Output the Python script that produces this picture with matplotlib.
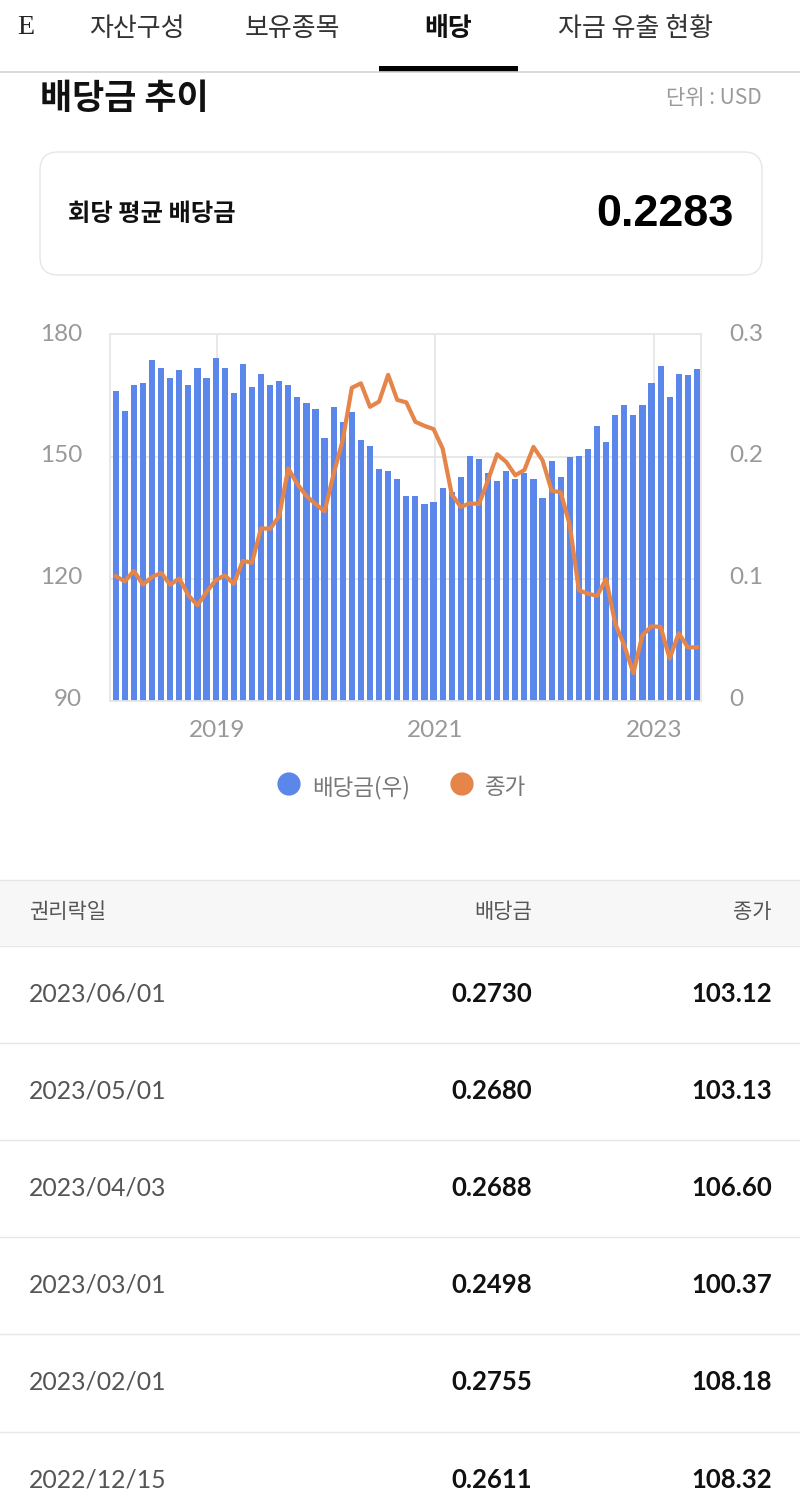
import numpy as np
import matplotlib
matplotlib.use('Agg')
import matplotlib.pyplot as plt
from matplotlib.patches import FancyBboxPatch, Rectangle
from matplotlib.transforms import ScaledTranslation

KR = ['Noto Sans CJK KR', 'DejaVu Sans']
LATIN = ['Lato', 'Noto Sans CJK KR']

# dividend per month, oldest first
dividends = [.2544, .2385, .2593, .2610, .2802, .2736, .2657, .2720, .2593, .2736, .2657,
             .2819, .2736, .2527, .2769, .2577, .2690, .2593, .2626, .2593, .2497, .2448,
             .2401, .2159, .2418, .2288, .2371, .2143, .2096, .1904, .1887, .1824, .1679,
             .1679, .1615, .1632, .1745, .1712, .1841, .2016, .1986, .1871, .1808, .1887,
             .1824, .1871, .1824, .1665, .1967, .1841, .2000, .2016, .2066, .2255, .2129,
             .2352, .2431, .2352, .2431, .2611, .2755, .2498, .2688, .2680, .2730]
# close price on the same dates
closes = [120.7, 119.4, 122.0, 118.6, 120.5, 121.5, 118.6, 120.1, 116.0, 113.5, 116.8,
          119.7, 120.9, 118.8, 124.5, 124.0, 132.5, 132.4, 135.5, 147.3, 143.4, 140.5,
          138.5, 136.7, 146.0, 154.3, 167.2, 168.3, 162.5, 163.8, 170.4, 164.2, 163.6,
          158.8, 157.8, 157.0, 152.2, 140.9, 137.8, 138.7, 138.5, 144.4, 150.8, 148.9,
          145.6, 146.9, 152.6, 149.3, 141.8, 141.4, 133.3, 117.2, 116.4, 115.8, 120.0,
          109.0, 103.6, 96.8, 106.1, 108.32, 108.18, 100.37, 106.60, 103.13, 103.12]

year_labels = ['2019', '2021', '2023']
year_pos = [11.15, 35.15, 59.25]
left_ticks = [90, 120, 150, 180]
right_ticks = [0, 0.1, 0.2, 0.3]

tabs = ['자산구성', '보유종목', '배당', '자금 유출 현황']
table_dates = ['2023/06/01', '2023/05/01', '2023/04/03', '2023/03/01', '2023/02/01', '2022/12/15']
table_divs = ['0.2730', '0.2680', '0.2688', '0.2498', '0.2755', '0.2611']
table_closes = ['103.12', '103.13', '106.60', '100.37', '108.18', '108.32']

BLUE = '#5b87ea'
ORANGE = '#e5854a'
GRID = '#e6e6e6'
W, H = 800, 1505

fig = plt.figure(figsize=(W / 100, H / 100), dpi=100, facecolor='white')

# whole page in pixel coords for the chrome around the chart
page = fig.add_axes([0, 0, 1, 1])
page.set_xlim(0, W)
page.set_ylim(H, 0)
page.axis('off')


def txt(x, y, s, size, color='#333333', ha='left', weight='normal', family=KR):
    return page.text(x, y + 2.5, s, fontsize=size * 0.72, color=color, ha=ha, va='center',
                     fontweight=weight, family=family)


# tabs, the first one is cut off by the screen edge
cut = txt(17, 24.5, 'E', 28, '#222222', family=['Liberation Serif'])
cut.set_clip_path(Rectangle((18, 5), 11, 40, transform=page.transData))
tab_x = [137, 292, 448, 636]
for x, s in zip(tab_x, tabs):
    if s == '배당':
        txt(x, 26, s, 26, '#111111', ha='center', weight='bold')
    else:
        txt(x, 26, s, 26, '#333333', ha='center')
page.plot([0, W], [71.5, 71.5], color='#d4d4d4', lw=1.2)
page.add_patch(Rectangle((379, 66), 139, 5.5, color='black', lw=0))

txt(40, 95.5, '배당금 추이', 35, '#111111', weight='bold')
txt(762, 95, '단위 : USD', 21, '#9a9a9a', ha='right')

# average box
page.add_patch(FancyBboxPatch((40, 152), 722, 123, boxstyle='round,pad=0,rounding_size=18',
                              fc='white', ec='#e6e6e6', lw=1))
txt(68, 211.5, '회당 평균 배당금', 24.3, '#111111', weight='bold')
txt(734, 212, '0.2283', 45, '#000000', ha='right', weight='bold', family=['Liberation Sans'])

# chart, bars on the right axis scale, close on the left one
ax = fig.add_axes([110 / W, 1 - 700.5 / H, 591 / W, 366.5 / H])
ax.set_facecolor('none')
idx = np.arange(len(dividends))
ax.bar(idx, dividends, width=0.68, color=BLUE, zorder=2)
ax.set_xlim(-0.63, 64.45)
ax.set_ylim(0, 0.3016)
ax.set_xticks(year_pos)
ax.set_xticklabels(year_labels)
ax.set_yticks(right_ticks)
ax.set_yticklabels(['0', '0.1', '0.2', '0.3'])
ax.grid(True, color=GRID, lw=1.3, zorder=0)
ax.set_axisbelow(True)
ax.yaxis.get_gridlines()[3].set_visible(False)
for sp in ax.spines.values():
    sp.set_color(GRID)
    sp.set_linewidth(1.3)

ax2 = ax.twinx()
ax2.set_ylim(90, 90 + 0.3016 * 300)
ax2.yaxis.tick_left()
ax.yaxis.tick_right()
ax2.set_yticks(left_ticks)
ax.tick_params(axis='x', length=0, labelsize=24.3 * 0.72, labelcolor='#999999', pad=14)
ax.tick_params(axis='y', length=0, labelsize=24.3 * 0.72, labelcolor='#999999', pad=20)
ax2.tick_params(length=0, labelsize=24.3 * 0.72, labelcolor='#999999', pad=20)
# labels sit a little above their gridlines
lift = ScaledTranslation(0, 3.5 / 100, fig.dpi_scale_trans)
for lab in ax.get_xticklabels() + ax.get_yticklabels() + ax2.get_yticklabels():
    lab.set_family(LATIN)
for lab in ax.get_yticklabels() + ax2.get_yticklabels():
    lab.set_transform(lab.get_transform() + lift)
ax2.plot(idx, closes, color=ORANGE, lw=3, solid_joinstyle='round', zorder=3)
for sp in ax2.spines.values():
    sp.set_visible(False)

# legend
page.scatter([289, 462], [784, 784], s=280, c=[BLUE, ORANGE], lw=0)
txt(312, 785, '배당금(우)', 22.5, '#777777')
txt(485, 785, '종가', 22.5, '#777777')

# table
page.add_patch(Rectangle((0, 880), W, 65, fc='#f7f7f7', ec='none'))
page.plot([0, W], [880, 880], color='#e6e6e6', lw=1)
page.plot([0, W], [945.5, 945.5], color='#e6e6e6', lw=1)
txt(29, 909.5, '권리락일', 21, '#555555')
txt(532, 909.5, '배당금', 21, '#555555', ha='right')
txt(772, 909.5, '종가', 21, '#555555', ha='right')
row_y = [991, 1088.5, 1185.5, 1282.5, 1379.5, 1477]
line_y = [1043, 1140, 1237, 1334, 1432]
for y, d, v, c in zip(row_y, table_dates, table_divs, table_closes):
    txt(29, y, d, 24.7, '#555555', family=LATIN)
    txt(532, y, v, 25.7, '#111111', ha='right', weight='bold', family=LATIN)
    txt(772, y, c, 25.7, '#111111', ha='right', weight='bold', family=LATIN)
for y in line_y:
    page.plot([0, W], [y, y], color='#e8e8e8', lw=1)

fig.savefig('out.png', dpi=100)
